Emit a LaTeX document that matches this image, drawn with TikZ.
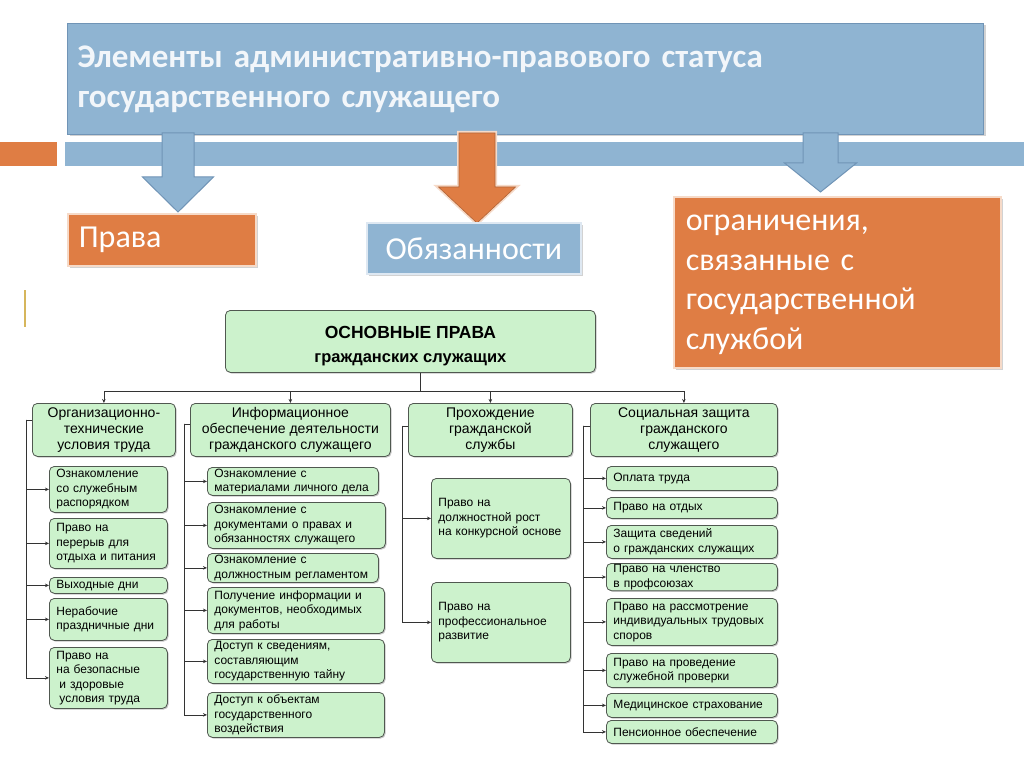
\documentclass[tikz,border=0pt]{standalone}
\usepackage{fontspec}
\setmainfont{Carlito}[WordSpace=0.7]
\newfontfamily\chartfont{Liberation Sans}
\usetikzlibrary{arrows.meta,shadows}

\definecolor{hdrblue}{RGB}{143,180,210}
\definecolor{hdredge}{RGB}{112,148,182}
\definecolor{ornge}{RGB}{223,125,68}
\definecolor{orngedge}{RGB}{246,218,200}
\definecolor{blueedge}{RGB}{222,232,242}
\definecolor{paleg}{RGB}{204,242,204}
\definecolor{gedge}{RGB}{80,88,80}
\definecolor{goldline}{RGB}{214,182,92}
\definecolor{hdrtext}{RGB}{242,246,250}

% block arrow: (centre x, top y, neck y, tip y)(half shaft, half head)
\def\bigarrow[#1](#2,#3,#4,#5)(#6,#7){\draw[#1] ({#2-#6},#3) -- ({#2+#6},#3) -- ({#2+#6},#4) -- ({#2+#7},#4) -- (#2,#5) -- ({#2-#7},#4) -- ({#2-#6},#4) -- cycle;}

\tikzset{
  softshadow/.style={drop shadow={shadow xshift=2pt, shadow yshift=-2pt, opacity=0.35}},
  hdrbox/.style={draw=hdredge, line width=1pt, fill=hdrblue, anchor=north west, softshadow, text=hdrtext, font=\fontsize{33}{40}\selectfont\bfseries, align=left, inner xsep=10pt},
  tagbox/.style={line width=1.6pt, anchor=north west, softshadow, text=white, font=\fontsize{32}{39.5}\selectfont, align=left},
  orbox/.style={tagbox, draw=orngedge, fill=ornge},
  blbox/.style={tagbox, draw=blueedge, fill=hdrblue},
  gbox/.style={draw=gedge, line width=0.8pt, fill=paleg, rounded corners=5pt, anchor=north west, drop shadow={shadow xshift=1.2pt, shadow yshift=-1.2pt, opacity=0.45}},
  catbox/.style={gbox, align=center, inner sep=2pt, minimum height=53pt, font=\chartfont\fontsize{14}{16}\selectfont},
  itembox/.style={gbox, align=left, inner xsep=7pt, inner ysep=1pt, font=\chartfont\fontsize{12}{14.5}\selectfont},
  link/.style={draw=black!80, line width=0.8pt},
  linkarr/.style={link, -{Stealth[length=4pt, width=3.5pt]}},
  bluearr/.style={fill=hdrblue, draw=hdredge, line width=1pt},
  orarr/.style={fill=ornge, draw=ornge!80!black, line width=0.6pt, preaction={draw=orngedge, line width=4pt}}
}

\begin{document}
\begin{tikzpicture}[x=1pt, y=-1pt]
		%%%%% START %%%%%
		\path[fill=white] (0,0) rectangle (1024,767);
		\useasboundingbox (0,0) rectangle (1024,767);
		
		\fill[ornge] (0,142) rectangle (57,166);
		\fill[hdrblue] (65,142) rectangle (1024,166);
		\draw[goldline, line width=1.5pt] (25,290) -- (25,327);
		
		\node[hdrbox, minimum width=916pt, minimum height=111pt, text width=896pt] (head) at (67,23) {Элементы административно-правового статуса\\государственного служащего};
		
		\bigarrow[bluearr](178,133,177,212)(16,35.5)
		\bigarrow[orarr](477,133,187,223)(18,38.5)
		\bigarrow[bluearr](820.5,133,163,192)(17.5,36)
		
		\node[orbox, minimum width=188pt, minimum height=52pt, text width=166pt, inner xsep=11pt] (prava) at (67,213) {Права};
		\node[blbox, minimum width=214pt, minimum height=51pt, align=center] (obyaz) at (366,222) {Обязанности};
		\node[orbox, minimum width=327pt, minimum height=171pt, text width=303pt, inner xsep=12pt] (ogran) at (673,196) {\strut ограничения,\\связанные с\\государственной\\службой\strut};
		
		%%%%% chart %%%%%
		\node[gbox, minimum width=370pt, minimum height=62pt, align=center, font=\chartfont\bfseries\fontsize{16.5}{24}\selectfont] (main) at (225,310) {\rule{0pt}{22pt}{\fontsize{17.5}{24}\selectfont ОСНОВНЫЕ ПРАВА}\\гражданских служащих};
		
		\node[catbox, minimum width=143pt] (cat1) at (32,403) {Организационно-\\технические\\условия труда};
		\node[catbox, minimum width=200pt] (cat2) at (190,403) {Информационное\\обеспечение деятельности\\гражданского служащего};
		\node[catbox, minimum width=164pt] (cat3) at (408,403) {Прохождение\\гражданской\\службы};
		\node[catbox, minimum width=187pt] (cat4) at (590,403) {Социальная защита\\гражданского\\служащего};
		
		\node[itembox, text width=104pt, minimum height=46pt] (o1) at (49,466) {Ознакомление\\со служебным\\распорядком};
		\node[itembox, text width=104pt, minimum height=50pt] (o2) at (49,518) {Право на\\перерыв для\\отдыха и питания};
		\node[itembox, text width=104pt, minimum height=16pt] (o3) at (49,577) {Выходные дни};
		\node[itembox, text width=104pt, minimum height=42pt] (o4) at (49,598) {Нерабочие\\праздничные дни};
		\node[itembox, text width=104pt, minimum height=61pt] (o5) at (49,647) {Право на\\на безопасные\\\hspace{3pt}и здоровые\\\hspace{3pt}условия труда};
		
		\node[itembox, text width=157pt, minimum height=28pt] (i1) at (207,467) {Ознакомление с\\материалами личного дела};
		\node[itembox, text width=164pt, minimum height=46pt] (i2) at (207,502) {Ознакомление с\\документами о правах и\\обязанностях служащего};
		\node[itembox, text width=157pt, minimum height=29pt] (i3) at (207,553) {Ознакомление с\\должностным регламентом};
		\node[itembox, text width=163pt, minimum height=46pt] (i4) at (207,587) {Получение информации и\\документов, необходимых\\для работы};
		\node[itembox, text width=163pt, minimum height=44pt] (i5) at (207,639) {Доступ к сведениям,\\составляющим\\государственную тайну};
		\node[itembox, text width=163pt, minimum height=45pt] (i6) at (207,692) {Доступ к объектам\\государственного\\воздействия};
		
		\node[itembox, text width=125pt, minimum height=80pt] (p1) at (431,478) {Право на\\должностной рост\\на конкурсной основе};
		\node[itembox, text width=125pt, minimum height=80pt] (p2) at (431,582) {Право на\\профессиональное\\развитие};
		
		\node[itembox, text width=157pt, minimum height=24pt] (s1) at (606,466) {Оплата труда};
		\node[itembox, text width=157pt, minimum height=21pt] (s2) at (606,497) {Право на отдых};
		\node[itembox, text width=157pt, minimum height=33pt] (s3) at (606,525) {Защита сведений\\о гражданских служащих};
		\node[itembox, text width=157pt, minimum height=26pt] (s4) at (606,563) {Право на членство\\в профсоюзах};
		\node[itembox, text width=157pt, minimum height=47pt] (s5) at (606,598) {Право на рассмотрение\\индивидуальных трудовых\\споров};
		\node[itembox, text width=157pt, minimum height=34pt] (s6) at (606,653) {Право на проведение\\служебной проверки};
		\node[itembox, text width=157pt, minimum height=24pt] (s7) at (606,693) {Медицинское страхование};
		\node[itembox, text width=157pt, minimum height=23pt] (s8) at (606,720) {Пенсионное обеспечение};
		
		%%%%% connectors %%%%%
		\draw[link] ([xshift=10pt]main.south) -- ++(0,19) coordinate (hub);
		\foreach \k in {cat1,cat2,cat3,cat4} \draw[linkarr] (hub) -| (\k.north);
		
		\draw[link] ([yshift=10pt]cat1.west) -- ++(-6,0) coordinate (t1);
		\foreach \k in {o1,o2,o3,o4,o5} \draw[linkarr] (t1) |- (\k.west);
		\draw[link] ([yshift=6pt]cat2.west) -- ++(-6,0) coordinate (t2);
		\foreach \k in {i1,i2,i3,i4,i5,i6} \draw[linkarr] (t2) |- (\k.west);
		\draw[link] ([yshift=4pt]cat3.west) -- ++(-6,0) coordinate (t3);
		\foreach \k in {p1,p2} \draw[linkarr] (t3) |- (\k.west);
		\draw[link] ([yshift=4pt]cat4.west) -- ++(-7,0) coordinate (t4);
		\foreach \k in {s1,s2,s3,s4,s5,s6,s7,s8} \draw[linkarr] (t4) |- (\k.west);
		%%%%% END %%%%%
\end{tikzpicture}
\end{document}
